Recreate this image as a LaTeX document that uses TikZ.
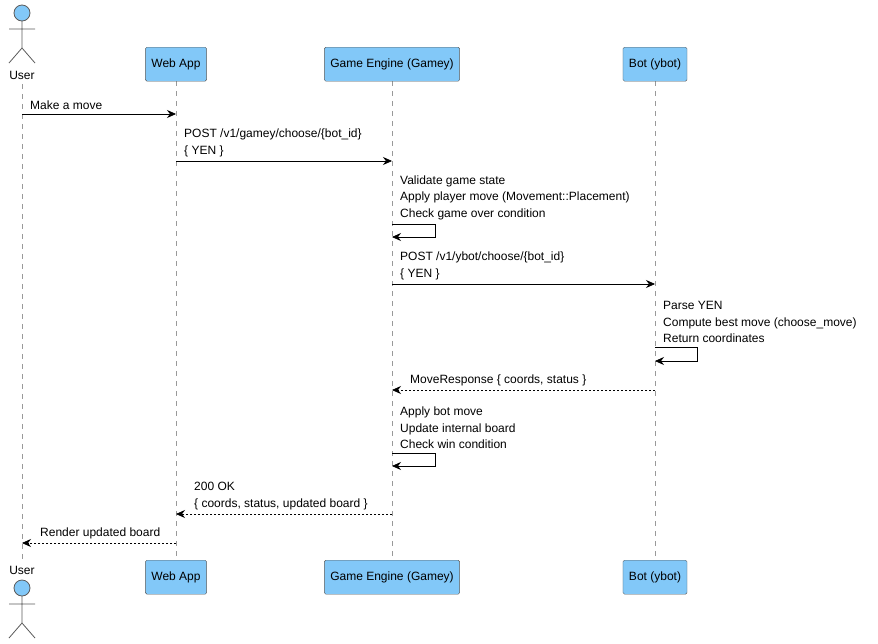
\documentclass[tikz,border=0pt]{standalone}
\usepackage{fontspec}
\setmainfont{Liberation Sans}
\usetikzlibrary{arrows.meta}
\definecolor{pfill}{RGB}{130,200,248}
\definecolor{pline}{RGB}{90,90,90}
\begin{document}
\begin{tikzpicture}[x=1pt,y=-1pt,font=\fontsize{12}{14}\selectfont,
  part/.style={draw=pline,fill=pfill,rounded corners=1.5pt,minimum height=34,inner xsep=6pt,anchor=north},
  life/.style={draw=gray!80,dash pattern=on 5pt off 5pt,line width=0.5pt},
  msg/.style={-{Stealth[length=9pt,width=8pt,inset=3pt]},line width=0.7pt},
  ret/.style={msg,dash pattern=on 2pt off 2pt},
  lbl/.style={anchor=south west,inner sep=0pt,align=left,font=\fontsize{12}{16.5}\selectfont},
  actor/.style={draw=pline,line width=0.8pt}]
\useasboundingbox (0,0) rectangle (878,643);
% lifelines
\draw[life] (22,84) -- (22,560);
\foreach \x in {176,392,655} \draw[life] (\x,81) -- (\x,560);
% participants
\node[part] (wa) at (176,47) {Web App};
\node[part] (ge) at (392,47) {Game Engine (Gamey)};
\node[part] (bt) at (655,47) {Bot (ybot)};
\node[part] (wa2) at (176,560) {Web App};
\node[part] (ge2) at (392,560) {Game Engine (Gamey)};
\node[part] (bt2) at (655,560) {Bot (ybot)};
% actors
\foreach \y/\ly in {0/75,575/570}{
  \draw[actor,fill=pfill] (22,\y+13) circle (8);
  \draw[actor] (22,\y+21) -- (22,\y+48) (9,\y+29) -- (35,\y+29) (22,\y+48) -- (9,\y+63) (22,\y+48) -- (35,\y+63);
}
\node (u1) at (22,75) {User};
\node (u2) at (22,570) {User};
% coordinates
\coordinate (a1) at (22,114); \coordinate (b1) at (176,114);
\coordinate (a2) at (176,161); \coordinate (b2) at (392,161);
\coordinate (a4) at (392,284); \coordinate (b4) at (655,284);
\coordinate (a6) at (655,390); \coordinate (b6) at (392,390);
\coordinate (a8) at (392,514); \coordinate (b8) at (176,514);
\coordinate (a9) at (176,543); \coordinate (b9) at (22,543);
\draw[msg] (a1) -- (b1);
\node[lbl] (t1) at (30,110) {Make a move};
\draw[msg] (a2) -- (b2);
\node[lbl] (t2) at (184,157) {POST /v1/gamey/choose/\{bot\_id\}\\\{ YEN \}};
\draw[msg] (392,224) -- (435,224) -- (435,237) -- (392,237);
\node[lbl] (t3) at (400,220) {Validate game state\\Apply player move (Movement::Placement)\\Check game over condition};
\draw[msg] (a4) -- (b4);
\node[lbl] (t4) at (400,280) {POST /v1/ybot/choose/\{bot\_id\}\\\{ YEN \}};
\draw[msg] (655,347) -- (697,347) -- (697,361) -- (655,361);
\node[lbl] (t5) at (663,343) {Parse YEN\\Compute best move (choose\_move)\\Return coordinates};
\draw[ret] (a6) -- (b6);
\node[lbl] (t6) at (410,386) {MoveResponse \{ coords, status \}};
\draw[msg] (392,453) -- (435,453) -- (435,466) -- (392,466);
\node[lbl] (t7) at (400,449) {Apply bot move\\Update internal board\\Check win condition};
\draw[ret] (a8) -- (b8);
\node[lbl] (t8) at (194,510) {200 OK\\\{ coords, status, updated board \}};
\draw[ret] (a9) -- (b9);
\node[lbl] (t9) at (40,539) {Render updated board};
\end{tikzpicture}
\end{document}
